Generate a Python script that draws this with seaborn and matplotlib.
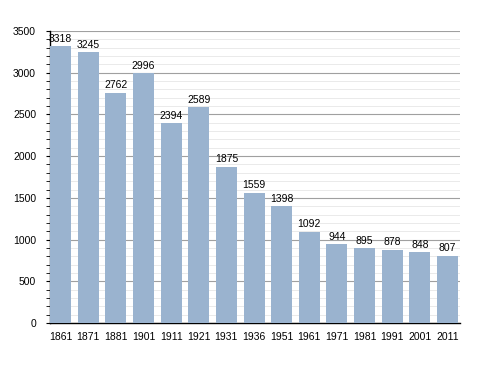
import matplotlib
matplotlib.use("Agg")
import matplotlib.pyplot as plt
import seaborn as sns
import pandas as pd
from matplotlib.ticker import MultipleLocator

years = ["1861", "1871", "1881", "1901", "1911", "1921", "1931", "1936", "1951",
         "1961", "1971", "1981", "1991", "2001", "2011"]
population = [3318, 3245, 2762, 2996, 2394, 2589, 1875, 1559, 1398,
              1092, 944, 895, 878, 848, 807]

df = pd.DataFrame({"year": years, "pop": population})

sns.set_style("white")
plt.rcParams['font.family'] = ['Liberation Sans', 'DejaVu Sans']
plt.rcParams['text.color'] = 'black'
plt.rcParams['xtick.color'] = 'black'
plt.rcParams['ytick.color'] = 'black'

fig = plt.figure(figsize=(4.88, 3.73), dpi=100)
ax = fig.add_axes([50 / 488, 50 / 373, 410 / 488, 292 / 373])

sns.barplot(data=df, x="year", y="pop", color="#9ab3cf", saturation=1,
            width=0.76, ax=ax, zorder=3, edgecolor="none", linewidth=0)

ax.set_ylim(0, 3500)
ax.set_xlim(-0.38, len(years) - 1 + 0.45)
ax.yaxis.set_major_locator(MultipleLocator(500))
ax.yaxis.set_minor_locator(MultipleLocator(100))
ax.grid(axis="y", which="major", color="#a0a0a0", linewidth=0.8, zorder=0)
ax.grid(axis="y", which="minor", color="#e6e6e6", linewidth=0.6, zorder=0)
ax.set_axisbelow(True)

for s in ["top", "right"]:
    ax.spines[s].set_visible(False)
for s in ["left", "bottom"]:
    ax.spines[s].set_color("black")
    ax.spines[s].set_linewidth(1.0)

ax.tick_params(axis="y", which="major", left=True, length=3, width=0.8,
               labelsize=7.5, pad=7, color="black", labelcolor="black")
ax.tick_params(axis="y", which="minor", left=True, length=3, width=0.6, color="black")
ax.tick_params(axis="x", bottom=False, labelsize=7.5, pad=3, labelcolor="black")
ax.set_xlabel("")
ax.set_ylabel("")

for i, v in enumerate(population):
    ax.text(i, v + 30, str(v), ha="center", va="bottom", fontsize=7.5,
            color="black", zorder=4)

fig.savefig("out.png", dpi=100)
